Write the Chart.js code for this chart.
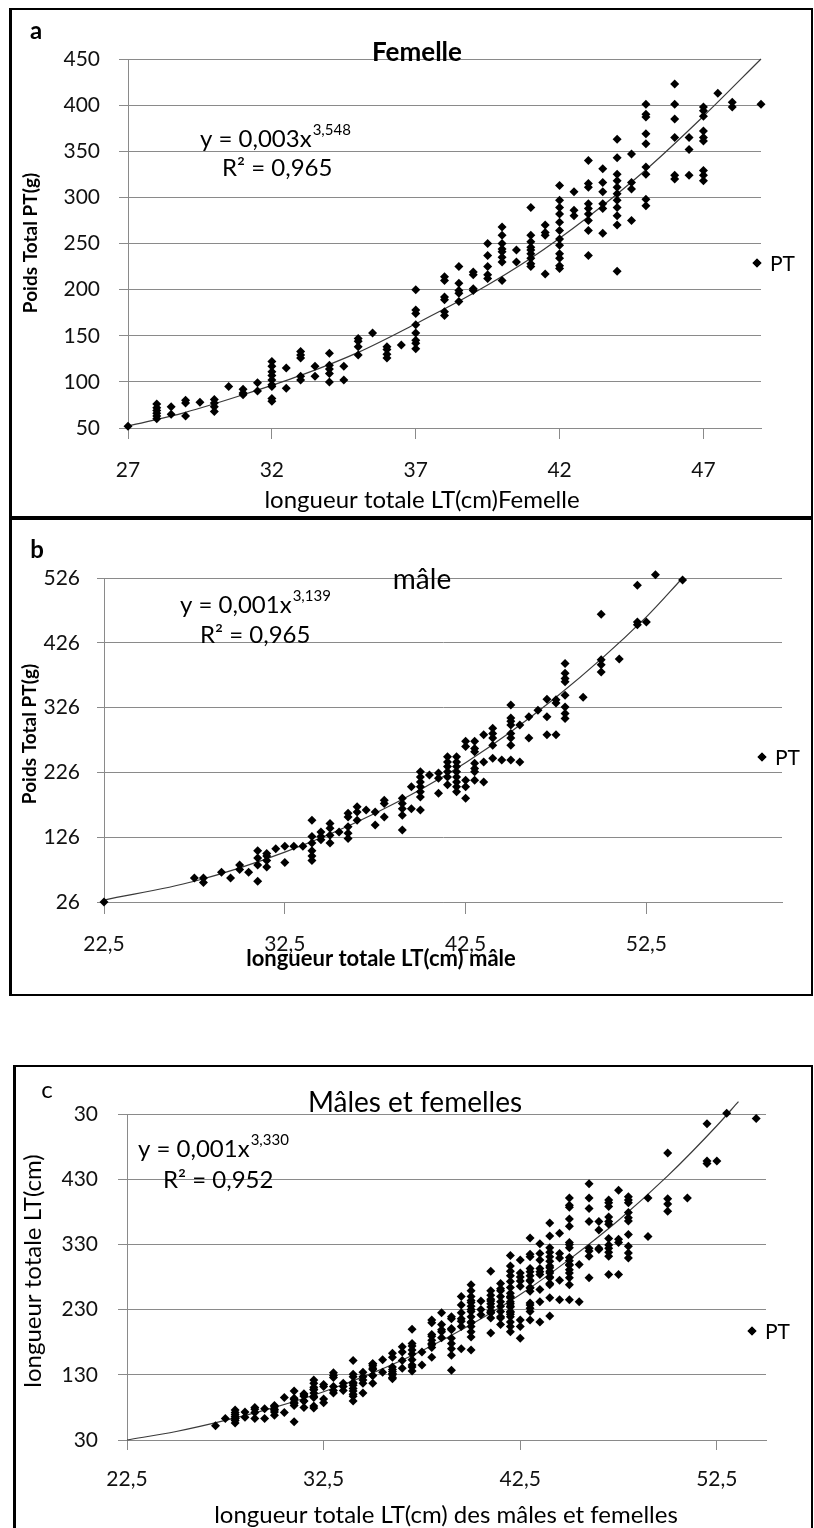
<!DOCTYPE html>
<html>
<head>
<meta charset="utf-8">
<script src="https://cdn.jsdelivr.net/npm/chart.js@4.4.0/dist/chart.umd.min.js"></script>
<style>
  body { margin: 0; background: #fff; width: 814px; height: 1528px; position: relative; overflow: hidden; }
  .frame { position: absolute; border: 2px solid #000; box-sizing: border-box; }
  canvas { position: absolute; left: 0; }
</style>
</head>
<body>
<div class="frame" style="left:9px;top:8px;width:804px;height:511px;border-width:2px 2px 3px 3px"></div>
<div class="frame" style="left:9px;top:518px;width:804px;height:478px;border-width:2px 2px 2px 3px"></div>
<div class="frame" style="left:13px;top:1065px;width:800px;height:520px;border-width:2px 2px 2px 3px"></div>
<canvas id="chartA" width="814" height="518" style="top:0"></canvas>
<canvas id="chartB" width="814" height="477" style="top:518px"></canvas>
<canvas id="chartC" width="814" height="462" style="top:1066px"></canvas>
<script>
  const femLength = [27, 28, 28.5, 29, 29.5, 30, 30.5, 31, 31.5, 32, 32.5, 33, 33.5, 34, 34.5, 35, 35.5, 36, 36.5, 37,
    38, 38.5, 39, 39.5, 40, 40.5, 41, 41.5, 42, 42.5, 43, 43.5, 44, 44.5, 45, 46, 46.5, 47, 47.5, 48, 49];
  const femWeight = [[52], [76, 72, 69, 66, 63, 60], [73, 65], [80, 77, 63], [78], [81, 77, 73, 68], [95], [92, 88, 86],
    [99, 90], [122, 117, 111, 107, 102, 97, 95, 82, 79], [115, 93], [133, 129, 126, 106, 102], [117, 106],
    [131, 118, 114, 109, 100], [117, 102], [147, 144, 138, 129], [153], [138, 135, 130, 126], [140],
    [200, 178, 174, 162, 153, 145, 142, 136], [214, 210, 192, 189, 176, 172], [225, 207, 199, 196, 187],
    [219, 216, 201, 199], [250, 237, 225, 216, 212], [268, 259, 250, 244, 241, 235, 230, 210], [243, 230],
    [289, 259, 252, 246, 243, 239, 234, 228, 225], [270, 262, 259, 217],
    [313, 297, 289, 282, 273, 264, 255, 248, 239, 234, 226, 223], [306, 286, 280],
    [340, 315, 311, 293, 288, 282, 275, 264, 237], [331, 316, 306, 293, 288, 261],
    [363, 343, 325, 318, 311, 304, 297, 289, 280, 270, 220], [347, 316, 309, 275],
    [401, 390, 387, 369, 358, 333, 325, 298, 291], [423, 401, 385, 365, 324, 320], [365, 352, 324],
    [398, 394, 388, 372, 365, 361, 329, 324, 318], [413], [403, 398], [401]];

  // Mâles : figure b
  const maleLength = [22.5, 27.5, 28, 29, 29.5, 30, 30.5, 31, 31.5, 32, 32.5, 33, 33.5, 34, 34.5, 35, 35.5, 36, 36.5, 37,
    37.5, 38, 39, 39.5, 40, 40.5, 41, 41.5, 42, 42.5, 43, 43.5, 44, 44.5, 45, 45.5, 46, 46.5, 47, 47.5, 48, 49,
    50, 51, 52, 52.5, 53, 54.5];
  const maleWeight = [[26], [63], [63, 56], [72], [63], [83, 76], [72], [105, 94, 83, 58], [101, 97, 90, 80], [108],
    [112, 87], [112], [112], [152, 127, 117, 105, 97, 90], [134, 127, 122], [147, 140, 129, 117], [134],
    [163, 157, 142, 132, 124], [173, 165, 152], [168], [165, 145], [183, 178, 157], [186, 178, 170, 160, 137],
    [204, 170], [227, 219, 211, 204, 196, 188, 168], [222], [225, 217, 194], [250, 242, 235, 227, 219, 207],
    [250, 242, 235, 227, 219, 211, 204, 196], [274, 266, 214, 204, 186], [274, 263, 258, 240, 232, 227, 214],
    [284, 242, 211], [294, 286, 279, 268, 248], [245], [330, 310, 305, 299, 286, 279, 268, 245], [299, 242],
    [312, 279], [322], [339, 312, 284], [338, 333, 284], [394, 379, 371, 366, 345, 327, 317, 309], [342],
    [470, 400, 392, 381], [401], [515, 458, 454], [458], [531], [523]];

  // Courbes de tendance (puissance)
  const femTrendLT = [27, 29, 31, 33, 35, 37, 39, 41, 43, 45, 47, 49];
  const femTrendPT = [52, 67, 86, 107, 132, 163, 196, 234, 279, 330, 388, 450];
  const maleTrendLT = [22.5, 27.5, 32.5, 37.5, 42.5, 47.5, 52.5, 54.5];
  const maleTrendPT = [29, 58, 103, 163, 241, 342, 466, 526];
  const allTrendLT = [22.5, 25, 27.5, 30, 32.5, 35, 37.5, 40, 42.5, 45, 47.5, 50, 52.5, 53.6];
  const allTrendPT = [30, 43, 60, 80, 104, 133, 167, 207, 253, 307, 367, 435, 512, 549];

  // Graduations
  const femXTicks = [27, 32, 37, 42, 47];
  const femYTicks = [50, 100, 150, 200, 250, 300, 350, 400, 450];
  const maleXTicks = [22.5, 32.5, 42.5, 52.5];
  const maleYTicks = [26, 126, 226, 326, 426, 526];
  const allXTicks = [22.5, 32.5, 42.5, 52.5];
  const allYTicks = [30, 130, 230, 330, 430, 530];
  const allYLabels = ['30', '130', '230', '330', '430', '30'];

  const FONT = 'Lato';
  const GRID = '#8a8a8a';
  Chart.defaults.font.family = FONT;

  function toPoints(lengths, weights) {
    const pts = [];
    lengths.forEach((x, i) => weights[i].forEach(y => pts.push({ x: x, y: y })));
    return pts;
  }

  // Texts, equation and legend drawn on top of each panel
  const panelText = {
    id: 'panelText',
    afterDraw(chart, args, opts) {
      const ctx = chart.ctx;
      ctx.save();
      ctx.fillStyle = '#000';
      ctx.textBaseline = 'middle';
      opts.items.forEach(it => {
        ctx.save();
        ctx.font = it.font;
        ctx.textAlign = it.align || 'left';
        if (it.rotate) {
          ctx.translate(it.x, it.y);
          ctx.rotate(-Math.PI / 2);
          ctx.fillText(it.text, 0, 0);
        } else {
          ctx.fillText(it.text, it.x, it.y);
        }
        if (it.sup) {
          const w = ctx.measureText(it.text).width;
          ctx.font = it.supFont;
          ctx.textAlign = 'left';
          ctx.fillText(it.sup, it.x + w + 1, it.y - 9);
        }
        ctx.restore();
      });
      // legend
      const lg = opts.legend;
      Chart.helpers.drawPoint(ctx, { pointStyle: 'rectRot', radius: 4.5, borderWidth: 0 }, lg.x, lg.y);
      ctx.fill();
      ctx.font = '21px ' + FONT;
      ctx.textAlign = 'left';
      ctx.fillText(chart.data.datasets[0].label, lg.x + 13, lg.y + 1);
      ctx.restore();
    }
  };

  function makePanel(id, o) {
    const cv = document.getElementById(id);
    return new Chart(cv, {
      type: 'scatter',
      data: {
        datasets: [{
          label: 'PT',
          data: o.points,
          pointStyle: 'rectRot',
          pointRadius: 4.5,
          pointHoverRadius: 4.5,
          pointBorderWidth: 0,
          backgroundColor: '#000',
          borderColor: '#000',
          clip: false
        }, {
          label: 'trend',
          data: o.trendX.map((x, i) => ({ x: x, y: o.trendY[i] })),
          showLine: true,
          pointRadius: 0,
          borderColor: '#3a3a3a',
          borderWidth: 1.2,
          cubicInterpolationMode: 'monotone',
          clip: false
        }]
      },
      options: {
        responsive: false,
        animation: false,
        events: [],
        layout: { padding: { left: 0, top: o.area.top, right: cv.width - o.area.right, bottom: 0 } },
        plugins: {
          legend: { display: false },
          tooltip: { enabled: false },
          panelText: { items: o.texts, legend: o.legend }
        },
        scales: {
          x: {
            type: 'linear',
            min: o.xMin,
            max: o.xMax,
            afterBuildTicks: s => { s.ticks = o.xTicks.map(v => ({ value: v })); },
            afterFit: s => { s.height = cv.height - o.area.bottom; },
            ticks: {
              autoSkip: false, maxRotation: 0, padding: o.xPad, color: '#111',
              font: { size: 21 },
              callback: v => String(v).replace('.', ',')
            },
            grid: { drawOnChartArea: false, drawTicks: true, tickLength: o.xTickLen, color: GRID },
            border: { color: GRID }
          },
          y: {
            type: 'linear',
            min: o.yMin,
            max: o.yMax,
            afterBuildTicks: s => { s.ticks = o.yTicks.map(v => ({ value: v })); },
            afterFit: s => { s.width = o.area.left; },
            ticks: {
              autoSkip: false, padding: o.yPad, color: '#111',
              font: { size: 21 },
              callback: (v, i) => o.yLabels ? o.yLabels[i] : String(v)
            },
            grid: { color: GRID, tickLength: o.yTickLen },
            border: { color: GRID }
          }
        }
      },
      plugins: [panelText]
    });
  }

  // a : Femelle
  makePanel('chartA', {
    points: toPoints(femLength, femWeight),
    trendX: femTrendLT, trendY: femTrendPT,
    area: { left: 128, top: 59, right: 761, bottom: 428 },
    xMin: 27, xMax: 49, yMin: 50, yMax: 450,
    xTicks: femXTicks, yTicks: femYTicks,
    xPad: 19, xTickLen: 11, yPad: 19, yTickLen: 9,
    legend: { x: 757, y: 263 },
    texts: [
      { text: 'a', x: 36, y: 31, font: 'bold 24px ' + FONT, align: 'center' },
      { text: 'Femelle', x: 417, y: 53, font: 'bold 26px ' + FONT, align: 'center' },
      { text: 'y = 0,003x', x: 200, y: 139, font: '24px ' + FONT, sup: '3,548', supFont: '15px ' + FONT },
      { text: 'R² = 0,965', x: 222, y: 168, font: '24px ' + FONT },
      { text: 'Poids Total PT(g)', x: 31, y: 243, font: 'bold 19px ' + FONT, align: 'center', rotate: true },
      { text: 'longueur totale LT(cm)Femelle', x: 422, y: 500, font: '24px ' + FONT, align: 'center' }
    ]
  });

  // b : mâle
  makePanel('chartB', {
    points: toPoints(maleLength, maleWeight),
    trendX: maleTrendLT, trendY: maleTrendPT,
    area: { left: 104, top: 60, right: 782, bottom: 384 },
    xMin: 22.5, xMax: 60, yMin: 26, yMax: 526,
    xTicks: maleXTicks, yTicks: maleYTicks,
    xPad: 18, xTickLen: 12, yPad: 17, yTickLen: 7,
    legend: { x: 762, y: 239 },
    texts: [
      { text: 'b', x: 37, y: 32, font: 'bold 24px ' + FONT, align: 'center' },
      { text: 'mâle', x: 422, y: 62, font: '28px ' + FONT, align: 'center' },
      { text: 'y = 0,001x', x: 180, y: 87, font: '24px ' + FONT, sup: '3,139', supFont: '15px ' + FONT },
      { text: 'R² = 0,965', x: 200, y: 117, font: '24px ' + FONT },
      { text: 'Poids Total PT(g)', x: 30, y: 216, font: 'bold 19px ' + FONT, align: 'center', rotate: true },
      { text: 'longueur totale LT(cm) mâle', x: 381, y: 441, font: 'bold 22px ' + FONT, align: 'center' }
    ]
  });

  // c : mâles et femelles (ensemble des deux échantillons, dans les bornes des axes)
  const allPoints = toPoints(femLength, femWeight).concat(toPoints(maleLength, maleWeight))
    .filter(p => p.y >= 30 && p.x >= 22.5);
  makePanel('chartC', {
    points: allPoints,
    trendX: allTrendLT, trendY: allTrendPT,
    area: { left: 127, top: 48, right: 766, bottom: 374 },
    xMin: 22.5, xMax: 55, yMin: 30, yMax: 530,
    xTicks: allXTicks, yTicks: allYTicks, yLabels: allYLabels,
    xPad: 17, xTickLen: 10, yPad: 20, yTickLen: 9,
    legend: { x: 752, y: 265 },
    texts: [
      { text: 'c', x: 47, y: 24, font: '24px ' + FONT, align: 'center' },
      { text: 'Mâles et femelles', x: 415, y: 37, font: '28px ' + FONT, align: 'center' },
      { text: 'y = 0,001x', x: 138, y: 83, font: '24px ' + FONT, sup: '3,330', supFont: '15px ' + FONT },
      { text: 'R² = 0,952', x: 163, y: 114, font: '24px ' + FONT },
      { text: 'longueur totale LT(cm)', x: 33, y: 205, font: '24px ' + FONT, align: 'center', rotate: true },
      { text: 'longueur totale LT(cm) des mâles et femelles', x: 446, y: 449, font: '24px ' + FONT, align: 'center' }
    ]
  });
</script>
</body>
</html>
